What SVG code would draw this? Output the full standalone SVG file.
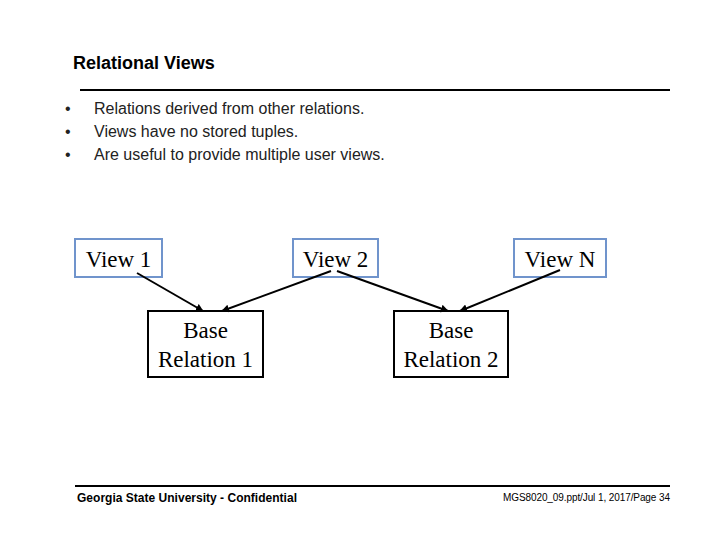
<svg xmlns="http://www.w3.org/2000/svg" width="720" height="540" viewBox="0 0 720 540">
<style>
.view{fill:#fff;stroke:#7094cc;stroke-width:2}
.base{fill:#fff;stroke:#000;stroke-width:2}
.node{font-family:"Liberation Serif","Times New Roman",serif;font-size:23px;fill:#000;text-anchor:middle}
.bul{font-family:"Liberation Sans",Arial,sans-serif;font-size:16px;fill:#222}
.conn{stroke:#000;stroke-width:2;fill:none;marker-end:url(#ah)}
</style>
<defs>
<marker id="ah" viewBox="0 0 10 10" refX="9" refY="5" markerWidth="4" markerHeight="4" orient="auto" markerUnits="strokeWidth">
<path d="M0,0 L10,5 L0,10 z" fill="#000"/>
</marker>
</defs>
<rect width="720" height="540" fill="#fff"/>
<text x="73" y="69" font-family="Liberation Sans,Arial,sans-serif" font-size="18" font-weight="bold" fill="#000">Relational Views</text>
<line x1="80" y1="90" x2="670" y2="90" stroke="#000" stroke-width="2"/>
<g id="bullets" class="bul">
<text x="65" y="114">•</text><text x="94" y="114">Relations derived from other relations.</text>
<text x="65" y="137">•</text><text x="94" y="137">Views have no stored tuples.</text>
<text x="65" y="160">•</text><text x="94" y="160">Are useful to provide multiple user views.</text>
</g>
<g id="view1"><rect class="view" x="75" y="239" width="87" height="38"/><text class="node" x="118.5" y="267">View 1</text></g>
<g id="view2"><rect class="view" x="293" y="239" width="85" height="38"/><text class="node" x="335.5" y="267">View 2</text></g>
<g id="viewN"><rect class="view" x="514" y="239" width="92" height="38"/><text class="node" x="560" y="267">View N</text></g>
<g id="base1"><rect class="base" x="148" y="311" width="115" height="66"/><text class="node" x="205.5" y="338">Base</text><text class="node" x="205.5" y="367">Relation 1</text></g>
<g id="base2"><rect class="base" x="394" y="311" width="114" height="66"/><text class="node" x="451" y="338">Base</text><text class="node" x="451" y="367">Relation 2</text></g>
<g id="connectors">
<line class="conn" x1="137" y1="273" x2="203" y2="311"/>
<line class="conn" x1="331" y1="271" x2="222" y2="311"/>
<line class="conn" x1="337" y1="271" x2="448" y2="311"/>
<line class="conn" x1="560" y1="270" x2="460" y2="311"/>
</g>
<line x1="75" y1="486" x2="670" y2="486" stroke="#000" stroke-width="2"/>
<text x="77" y="502" font-family="Liberation Sans,Arial,sans-serif" font-size="12" font-weight="bold" fill="#000" textLength="220">Georgia State University - Confidential</text>
<text x="670" y="501" font-family="Liberation Sans,Arial,sans-serif" font-size="10" fill="#000" text-anchor="end" textLength="167">MGS8020_09.ppt/Jul 1, 2017/Page 34</text>
</svg>
